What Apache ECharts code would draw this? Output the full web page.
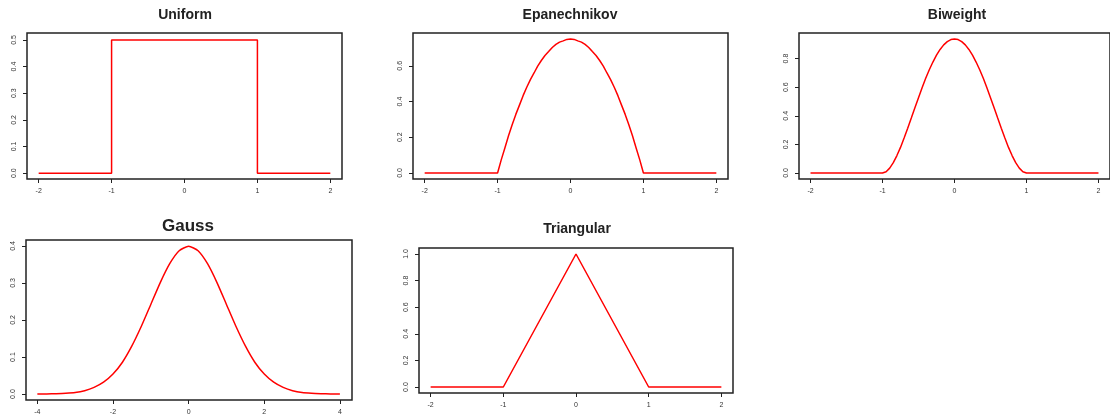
<!DOCTYPE html>
<html>
<head>
<meta charset="utf-8">
<script src="https://cdn.jsdelivr.net/npm/echarts@6/dist/echarts.min.js"></script>
<style>
  html, body { margin: 0; padding: 0; background: #fff; }
  #chart { width: 1110px; height: 416px; }
</style>
</head>
<body>
<div id="chart"></div>
<script>
// kernel curves, values
const uniformX = [-2, -1, -1, 1, 1, 2];
const uniformY = [0, 0, 0.5, 0.5, 0, 0];

const halfX = [-1, -0.95, -0.9, -0.85, -0.8, -0.75, -0.7, -0.65, -0.6, -0.55, -0.5, -0.45, -0.4, -0.35, -0.3, -0.25, -0.2, -0.15, -0.1, -0.05, 0,
  0.05, 0.1, 0.15, 0.2, 0.25, 0.3, 0.35, 0.4, 0.45, 0.5, 0.55, 0.6, 0.65, 0.7, 0.75, 0.8, 0.85, 0.9, 0.95, 1];

const epanX = [-2].concat(halfX, [2]);
const epanY = [0, 0, 0.073, 0.14, 0.208, 0.27, 0.328, 0.38, 0.433, 0.48, 0.523, 0.56, 0.598, 0.63, 0.658, 0.68, 0.703, 0.72, 0.733, 0.74, 0.748, 0.75,
  0.748, 0.74, 0.733, 0.72, 0.703, 0.68, 0.658, 0.63, 0.598, 0.56, 0.523, 0.48, 0.433, 0.38, 0.328, 0.27, 0.208, 0.14, 0.073, 0, 0];

const biweightX = [-2].concat(halfX, [2]);
const biweightY = [0, 0, 0.009, 0.034, 0.072, 0.122, 0.179, 0.244, 0.313, 0.384, 0.456, 0.527, 0.596, 0.662, 0.722, 0.776, 0.824, 0.864, 0.896, 0.919, 0.933, 0.9375,
  0.933, 0.919, 0.896, 0.864, 0.824, 0.776, 0.722, 0.662, 0.596, 0.527, 0.456, 0.384, 0.313, 0.244, 0.179, 0.122, 0.072, 0.034, 0.009, 0, 0];

const gaussX = [-4, -3.75, -3.5, -3.25, -3, -2.75, -2.5, -2.25, -2, -1.75, -1.5, -1.25, -1, -0.75, -0.5, -0.25, 0,
  0.25, 0.5, 0.75, 1, 1.25, 1.5, 1.75, 2, 2.25, 2.5, 2.75, 3, 3.25, 3.5, 3.75, 4];
const gaussY = [0.0001, 0.0004, 0.001, 0.002, 0.004, 0.009, 0.018, 0.032, 0.054, 0.086, 0.130, 0.183, 0.242, 0.301, 0.352, 0.387, 0.399,
  0.387, 0.352, 0.301, 0.242, 0.183, 0.130, 0.086, 0.054, 0.032, 0.018, 0.009, 0.004, 0.002, 0.001, 0.0004, 0.0001];

const triX = [-2, -1, 0, 1, 2];
const triY = [0, 0, 1, 0, 0];

// tick labels
const xTicks2 = [-2, -1, 0, 1, 2];
const xTicks4 = [-4, -2, 0, 2, 4];
const yTicksUniform = [0, 0.1, 0.2, 0.3, 0.4, 0.5];
const yTicksEpan = [0, 0.2, 0.4, 0.6];
const yTicksBiweight = [0, 0.2, 0.4, 0.6, 0.8];
const yTicksGauss = [0, 0.1, 0.2, 0.3, 0.4];
const yTicksTri = [0, 0.2, 0.4, 0.6, 0.8, 1.0];

const panels = [
  { name: 'Uniform', xs: uniformX, ys: uniformY, xt: xTicks2, yt: yTicksUniform,
    xr: [-2.16, 2.16], yr: [-0.022, 0.526], box: [27, 33, 315, 146], title: [185, 8, 14] },
  { name: 'Epanechnikov', xs: epanX, ys: epanY, xt: xTicks2, yt: yTicksEpan,
    xr: [-2.16, 2.16], yr: [-0.034, 0.784], box: [413, 33, 315, 146], title: [570, 8, 14] },
  { name: 'Biweight', xs: biweightX, ys: biweightY, xt: xTicks2, yt: yTicksBiweight,
    xr: [-2.16, 2.16], yr: [-0.042, 0.979], box: [799, 33, 316, 146], title: [957, 8, 14] },
  { name: 'Gauss', xs: gaussX, ys: gaussY, xt: xTicks4, yt: yTicksGauss,
    xr: [-4.3, 4.32], yr: [-0.016, 0.416], box: [26, 240, 326, 162], title: [188, 218, 17] },
  { name: 'Triangular', xs: triX, ys: triY, xt: xTicks2, yt: yTicksTri,
    xr: [-2.16, 2.16], yr: [-0.045, 1.045], box: [419, 248, 314, 145], title: [577, 222, 14] }
];

const fontFam = '"Liberation Sans", Arial, sans-serif';

const option = {
  animation: false,
  backgroundColor: '#fff',
  title: [],
  grid: [],
  xAxis: [],
  yAxis: [],
  series: []
};

panels.forEach((p, i) => {
  option.title.push({
    text: p.name,
    left: p.title[0],
    top: p.title[1],
    textAlign: 'center',
    padding: 0,
    textStyle: { fontFamily: fontFam, fontSize: p.title[2], fontWeight: 'bold', color: '#222' }
  });
  option.grid.push({
    left: p.box[0], top: p.box[1], width: p.box[2], height: p.box[3],
    show: true, borderColor: '#222', borderWidth: 1.5, backgroundColor: 'transparent'
  });
  option.xAxis.push({
    type: 'value', gridIndex: i, min: p.xr[0], max: p.xr[1],
    splitLine: { show: false },
    axisLine: { show: false, onZero: false },
    axisTick: { show: true, length: 4, inside: false, customValues: p.xt, lineStyle: { color: '#222', width: 1 } },
    axisLabel: { show: true, customValues: p.xt, margin: 9, fontSize: 7, color: '#333', fontFamily: fontFam,
      formatter: v => String(v) }
  });
  option.yAxis.push({
    type: 'value', gridIndex: i, min: p.yr[0], max: p.yr[1],
    splitLine: { show: false },
    axisLine: { show: false, onZero: false },
    axisTick: { show: true, length: 4, inside: false, customValues: p.yt, lineStyle: { color: '#222', width: 1 } },
    axisLabel: { show: true, customValues: p.yt, margin: 9, fontSize: 7, color: '#333', fontFamily: fontFam,
      rotate: 90, formatter: v => v.toFixed(1) }
  });
  option.series.push({
    type: 'line', xAxisIndex: i, yAxisIndex: i,
    data: p.xs.map((x, k) => [x, p.ys[k]]),
    showSymbol: false, symbol: 'none',
    smooth: p.name === 'Gauss' ? 0.2 : false,
    lineStyle: { color: '#ff0000', width: 1.5 },
    silent: true
  });
});

const chart = echarts.init(document.getElementById('chart'), null, { renderer: 'canvas' });
chart.setOption(option);
</script>
</body>
</html>
